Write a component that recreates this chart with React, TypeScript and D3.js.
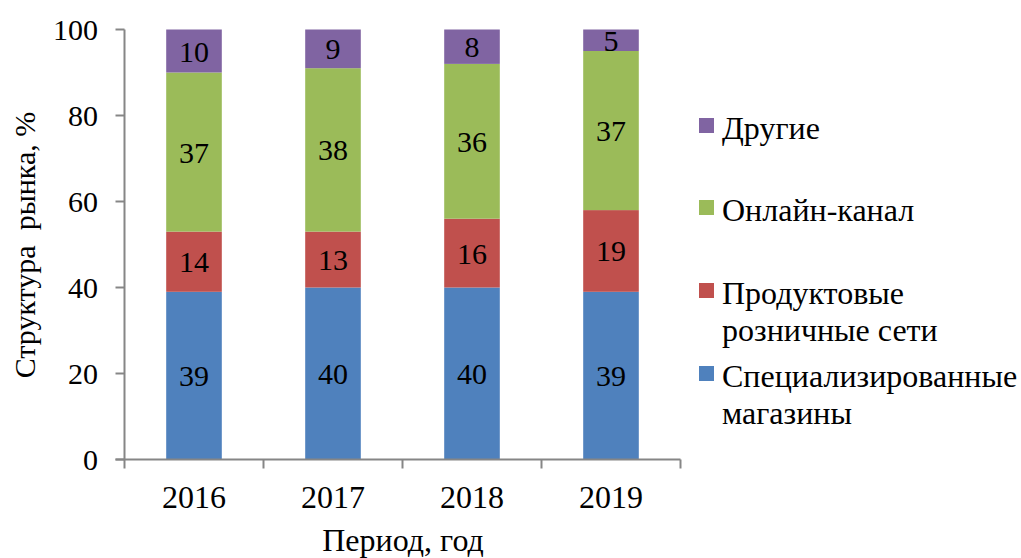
import React from 'react';
import * as d3 from 'd3';

const years = ['2016', '2017', '2018', '2019'];
const specialized = [39, 40, 40, 39];
const grocery = [14, 13, 16, 19];
const online = [37, 38, 36, 37];
const other = [10, 9, 8, 5];
const colors = ['#4F81BD', '#C0504D', '#9BBB59', '#8064A2'];
const yTicks = [0, 20, 40, 60, 80, 100];

// legend entries, top to bottom (series index + wrapped lines)
const legendItems = [
  { series: 3, lines: ['Другие'] },
  { series: 2, lines: ['Онлайн-канал'] },
  { series: 1, lines: ['Продуктовые', 'розничные сети'] },
  { series: 0, lines: ['Специализированные', 'магазины'] },
];

const W = 1021;
const H = 558;
const FONT = '"Liberation Serif"';
const axisColor = '#868686';

const left = 124.5;
const right = 680.5;
const top = 29.5;
const bottom = 459.5;

const x = d3.scaleBand().domain(years).range([left, right]).paddingInner(0.6).paddingOuter(0.3);
const y = d3.scaleLinear().domain([0, 100]).range([bottom, top]);

const rows = years.map((yr, i) => ({
  year: yr,
  s0: specialized[i],
  s1: grocery[i],
  s2: online[i],
  s3: other[i],
}));
const stacked = d3.stack<any>().keys(['s0', 's1', 's2', 's3'])(rows);
const bounds = d3.range(years.length + 1).map(i => left + i * x.step());
const legendBase = [139, 221, 304, 387];

const App: React.FC = () => (
  <svg
    width={W}
    height={H}
    style={{ position: 'absolute', left: 0, top: 0, background: '#fff', fontFamily: FONT }}
  >
    {stacked.map((layer, si) => (
      <g key={si}>
        {layer.map(d => (
          <g key={d.data.year}>
            <rect
              x={x(d.data.year)}
              width={x.bandwidth()}
              y={y(d[1])}
              height={y(d[0]) - y(d[1])}
              fill={colors[si]}
            />
            <text
              x={(x(d.data.year) as number) + x.bandwidth() / 2}
              y={(y(d[0]) + y(d[1])) / 2}
              dy="0.35em"
              textAnchor="middle"
              style={{ fontFamily: FONT, fontSize: 30 }}
            >
              {d[1] - d[0]}
            </text>
          </g>
        ))}
      </g>
    ))}

    {/* y axis */}
    <line x1={left} x2={left} y1={top} y2={bottom} stroke={axisColor} strokeWidth={2} />
    {yTicks.map(t => (
      <g key={t}>
        <line x1={left - 9} x2={left} y1={y(t)} y2={y(t)} stroke={axisColor} strokeWidth={2} />
        <text x={98} y={y(t)} dy="0.35em" textAnchor="end" style={{ fontFamily: FONT, fontSize: 30 }}>
          {t}
        </text>
      </g>
    ))}

    {/* x axis */}
    <line x1={left - 9} x2={right} y1={bottom} y2={bottom} stroke={axisColor} strokeWidth={2} />
    {bounds.map(b => (
      <line key={b} x1={b} x2={b} y1={bottom} y2={bottom + 9} stroke={axisColor} strokeWidth={2} />
    ))}
    {years.map(yr => (
      <text
        key={yr}
        x={(x(yr) as number) + x.bandwidth() / 2}
        y={508}
        textAnchor="middle"
        style={{ fontFamily: FONT, fontSize: 32 }}
      >
        {yr}
      </text>
    ))}

    {/* axis titles */}
    <text x={403} y={551} textAnchor="middle" style={{ fontFamily: FONT, fontSize: 32 }}>
      Период, год
    </text>
    <text
      transform="translate(35, 245) rotate(-90)"
      textAnchor="middle"
      style={{ fontFamily: FONT, fontSize: 30, whiteSpace: 'pre' }}
    >
      {'Структура  рынка, %'}
    </text>

    {/* legend */}
    {legendItems.map((item, i) => (
      <g key={item.series}>
        <rect x={699} y={legendBase[i] - 21} width={15} height={15} fill={colors[item.series]} />
        {item.lines.map((ln, j) => (
          <text key={ln} x={722} y={legendBase[i] + j * 36.5} style={{ fontFamily: FONT, fontSize: 32 }}>
            {ln}
          </text>
        ))}
      </g>
    ))}
  </svg>
);

export default App;
